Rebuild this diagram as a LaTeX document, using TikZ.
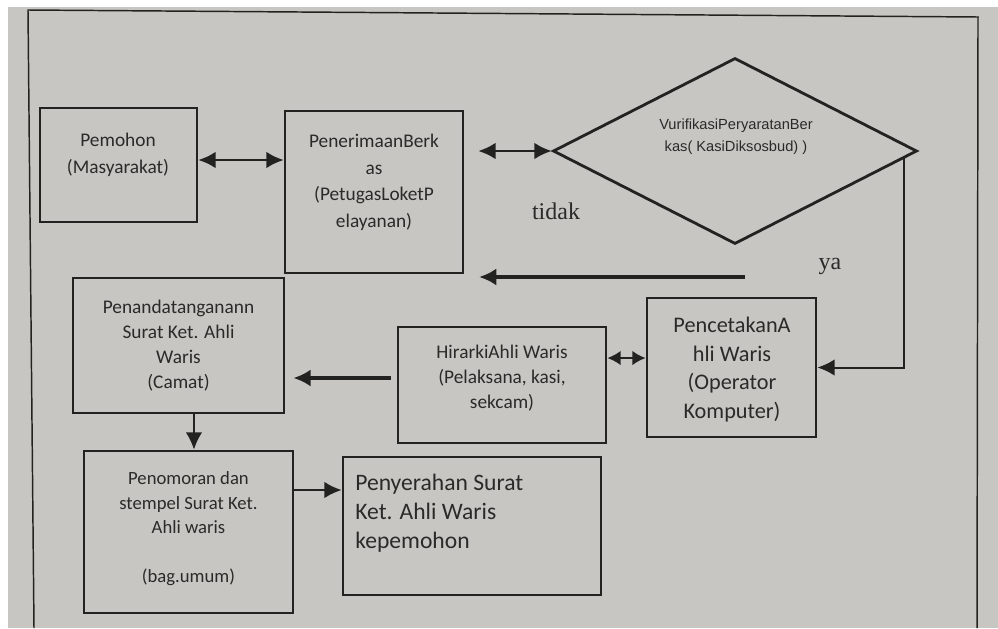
\documentclass[tikz,border=0pt]{standalone}
\usepackage{fontspec}
\setmainfont{Carlito}
\newfontfamily\arialfont{Liberation Sans}
\newfontfamily\timesfont{Liberation Serif}
\usetikzlibrary{shapes.geometric,arrows.meta}
\definecolor{paper}{RGB}{200,198,194}
\definecolor{ink}{RGB}{34,34,32}
\definecolor{inktext}{RGB}{44,42,40}
\tikzset{
  sz/.style 2 args={minimum width=#1*0.75pt, minimum height=#2*0.75pt},
  box/.style={draw=ink, line width=2.1pt, inner sep=0pt},
  boxtext/.style={text=inktext, align=center, inner sep=0pt, font=\fontsize{14.5}{18.75}\selectfont},
  bigtext/.style={boxtext, font=\fontsize{16.7}{21.5}\selectfont},
  link/.style={draw=ink, line width=1.5pt, -{Latex[length=13pt,width=12.5pt]}},
  linkboth/.style={link, {Latex[length=13pt,width=12.5pt]}-{Latex[length=13pt,width=12.5pt]}},
  heavy/.style={draw=ink, line width=3.4pt, -{Latex[length=13pt,width=13pt]}}
}
\begin{document}
\begin{tikzpicture}[x=0.75pt, y=-0.75pt]
  \useasboundingbox (0,0) rectangle (998,628);
  \fill[white] (0,0) rectangle (998,628);
  \fill[paper] (8,7) rectangle (998,628);
  \draw[ink, line width=1.1pt] (34,628) -- (28,10) -- (978,17) -- (977,628);

  % boxes
  \node[box, sz={157}{114}] (pemohon) at (118.5,165) {};
  \node[boxtext, font=\fontsize{14.5}{20}\selectfont] (pemohonTxt) at (118,155) {Pemohon\\(Masyarakat)};
  \node[box, sz={178}{162}] (terima) at (374,192) {};
  \node[boxtext, font=\fontsize{14.5}{20}\selectfont] (terimaTxt) at (374,182.5) {PenerimaanBerk\\as\\(PetugasLoketP\\elayanan)};
  \node[box, diamond, sz={364}{186}] (verif) at (735,151) {};
  \node[text=inktext, align=center, inner sep=0pt, font=\arialfont\fontsize{11}{16.5}\selectfont] (verifTxt) at (736,137) {VurifikasiPeryaratanBer\\kas( KasiDiksosbud) )};
  \node[box, sz={211}{135}] (tanda) at (178.5,345.5) {};
  \node[boxtext] (tandaTxt) at (178.5,345.5) {Penandatanganann\\Surat Ket. Ahli\\Waris\\(Camat)};
  \node[box, sz={208}{116}] (hirarki) at (502,385) {};
  \node[boxtext] (hirarkiTxt) at (502,378) {HirarkiAhli Waris\\(Pelaksana, kasi,\\sekcam)};
  \node[box, sz={169}{139}] (cetak) at (731.5,367.5) {};
  \node[bigtext] (cetakTxt) at (732,369.5) {PencetakanA\\hli Waris\\(Operator\\Komputer)};
  \node[box, sz={209}{162}] (nomor) at (188.5,532) {};
  \node[boxtext, font=\fontsize{14}{18.4}\selectfont] (nomorTxt) at (188.5,529) {Penomoran dan\\stempel Surat Ket.\\Ahli waris\\\\(bag.umum)};
  \node[box, sz={258}{138}] (serah) at (472,526) {};
  \node[bigtext, align=left, anchor=west, font=\fontsize{17.7}{21.75}\selectfont] (serahTxt) at (355,513) {Penyerahan Surat\\Ket. Ahli Waris\\kepemohon};

  % labels
  \node[text=inktext, font=\timesfont\fontsize{18}{18}\selectfont] (tidak) at (556,211) {tidak};
  \node[text=inktext, font=\timesfont\fontsize{18}{18}\selectfont] (ya) at (830,266) {ya};

  % connectors
  \coordinate (tidakStart) at (745,277);
  \coordinate (hkStart) at ([shift={(-4.5pt,5.25pt)}]hirarki.west);
  \draw[linkboth] ([yshift=3.75pt]pemohon.east) -- ([yshift=3.75pt]pemohon.east -| terima.west);
  \draw[linkboth] ([xshift=10.5pt]terima.east |- verif.west) -- (verif.west);
  \draw[heavy] (tidakStart) -- ([xshift=11pt]terima.east |- tidakStart);
  \draw[link] ([xshift=-10.5pt]verif.east) ++(0,7) |- (cetak.east);
  \draw[linkboth, {Latex[length=10pt,width=11pt]}-{Latex[length=10pt,width=11pt]}] ([yshift=7.1pt]cetak.west -| hirarki.east) -- ([yshift=7.1pt]cetak.west);
  \draw[heavy] (hkStart) -- ([xshift=6pt]hkStart -| tanda.east);
  \draw[link] ([xshift=11.6pt]tanda.south) -- ([xshift=11.6pt]tanda.south |- nomor.north);
  \draw[link] ([yshift=31.5pt]nomor.east) -- ([yshift=31.5pt]nomor.east -| serah.west);
\end{tikzpicture}
\end{document}
